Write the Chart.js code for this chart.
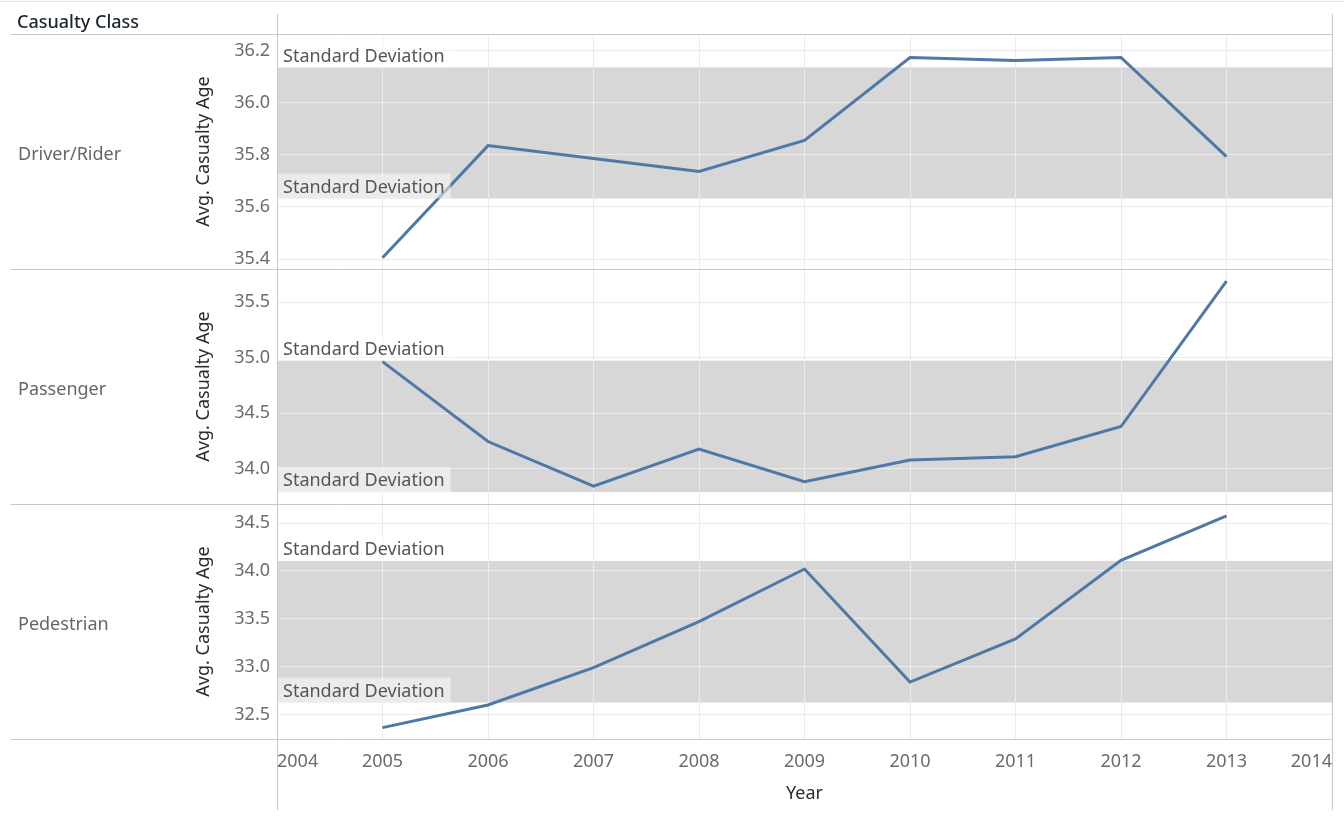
<!DOCTYPE html>
<html>
<head>
<meta charset="utf-8">
<title>Avg. Casualty Age by Casualty Class</title>
<script src="https://cdn.jsdelivr.net/npm/chart.js@4.4.1/dist/chart.umd.min.js"></script>
<style>
  html, body { margin: 0; padding: 0; background: #fff; }
  #wrap { position: relative; width: 1344px; height: 816px; }
</style>
</head>
<body>
<div id="wrap"><canvas id="casualtyChart"></canvas></div>
<script>
const years = [2005, 2006, 2007, 2008, 2009, 2010, 2011, 2012, 2013];
const casualtyClasses = ["Driver/Rider", "Passenger", "Pedestrian"];

const driverRiderAge = [35.405, 35.835, 35.786, 35.736, 35.855, 36.173, 36.161, 36.173, 35.793];
const passengerAge = [34.964, 34.245, 33.844, 34.177, 33.883, 34.078, 34.108, 34.380, 35.689];
const pedestrianAge = [32.364, 32.600, 32.990, 33.470, 34.020, 32.840, 33.290, 34.110, 34.576];

// standard deviation band (mean +/- 1 sd) for each class
const bandLow = [35.632, 33.790, 32.626];
const bandHigh = [36.135, 34.973, 34.105];

// y range + tick step of each panel
const axisMin = [35.362, 33.683, 32.245];
const axisMax = [36.263, 35.797, 34.699];
const tickStep = [0.2, 0.5, 0.5];

const yearMin = 2004;
const yearMax = 2014;

const seriesValues = [driverRiderAge, passengerAge, pedestrianAge];
const axisIds = ["yDriver", "yPassenger", "yPedestrian"];
const FONT = "'Noto Sans', sans-serif";
const SD_LABEL = "Standard Deviation";

Chart.defaults.font.family = FONT;

const datasets = seriesValues.map((vals, i) => ({
  label: casualtyClasses[i],
  data: years.map((yr, j) => ({ x: yr, y: vals[j] })),
  yAxisID: axisIds[i],
  borderColor: "#4e79a7",
  borderWidth: 3,
  pointRadius: 0,
  tension: 0,
}));

const scales = {
  x: {
    type: "linear",
    min: yearMin,
    max: yearMax,
    grid: { color: "#ebebeb", drawTicks: false },
    border: { display: false },
    ticks: {
      stepSize: 1,
      align: "inner",
      padding: 12,
      color: "#6b6b6b",
      font: { size: 18 },
      callback: (v) => String(v),
    },
    title: {
      display: true,
      text: "Year",
      color: "#2b2b2b",
      font: { size: 18 },
      padding: { top: 0, bottom: 11 },
    },
    afterFit: (s) => { s.height = 77; },
  },
};

axisIds.forEach((id, i) => {
  scales[id] = {
    type: "linear",
    position: "left",
    stack: "casualty",
    stackWeight: 1,
    weight: 2 - i,
    min: axisMin[i],
    max: axisMax[i],
    grid: { color: "#ebebeb", drawTicks: false },
    border: { display: false },
    ticks: {
      stepSize: tickStep[i],
      includeBounds: false,
      padding: 7,
      color: "#6b6b6b",
      font: { size: 18 },
      callback: (v) => Number(v).toFixed(1),
    },
    title: {
      display: true,
      text: "Avg. Casualty Age",
      color: "#2b2b2b",
      font: { size: 18 },
      padding: { top: 13, bottom: 0 },
    },
    afterFit: (s) => { s.width = 97; },
  };
});

// grey sd bands, their labels, the table frame and the row headers
const tablePlugin = {
  id: "tableFrame",
  beforeDraw(chart) {
    const { ctx, chartArea } = chart;
    ctx.save();
    ctx.fillStyle = "#d7d7d7";
    axisIds.forEach((id, i) => {
      const y = chart.scales[id];
      const top = y.getPixelForValue(bandHigh[i]);
      const bottom = y.getPixelForValue(bandLow[i]);
      ctx.fillRect(chartArea.left, top, chartArea.right - chartArea.left, bottom - top);
    });
    ctx.restore();
  },
  afterDatasetsDraw(chart) {
    const { ctx, chartArea } = chart;
    ctx.save();
    ctx.font = "18px " + FONT;
    ctx.textBaseline = "middle";
    const w = ctx.measureText(SD_LABEL).width + 12;
    axisIds.forEach((id, i) => {
      const y = chart.scales[id];
      const top = y.getPixelForValue(bandHigh[i]);
      const bottom = y.getPixelForValue(bandLow[i]);
      ctx.fillStyle = "rgba(255,255,255,0.5)";
      ctx.fillRect(chartArea.left, top - 25, w, 25);
      ctx.fillRect(chartArea.left, bottom - 25, w, 25);
      ctx.fillStyle = "#555555";
      ctx.fillText(SD_LABEL, chartArea.left + 6, top - 11);
      ctx.fillText(SD_LABEL, chartArea.left + 6, bottom - 11);
    });
    ctx.restore();
  },
  afterDraw(chart) {
    const { ctx, chartArea } = chart;
    ctx.save();
    ctx.lineWidth = 1;

    ctx.strokeStyle = "#e3e3e3";
    ctx.beginPath();
    ctx.moveTo(0, 1.5);
    ctx.lineTo(chart.width, 1.5);
    ctx.stroke();

    ctx.strokeStyle = "#c8c8c8";
    const edges = [chartArea.top].concat(axisIds.map((id) => chart.scales[id].bottom));
    edges.forEach((y) => {
      const py = Math.round(y) + 0.5;
      ctx.beginPath();
      ctx.moveTo(11, py);
      ctx.lineTo(chartArea.right + 1, py);
      ctx.stroke();
    });
    [chartArea.left, chartArea.right].forEach((x) => {
      const px = Math.round(x) + 0.5;
      ctx.beginPath();
      ctx.moveTo(px, 14);
      ctx.lineTo(px, 810);
      ctx.stroke();
    });

    ctx.textBaseline = "middle";
    ctx.textAlign = "left";
    ctx.fillStyle = "#1c2433";
    ctx.font = "500 18px " + FONT;
    ctx.fillText("Casualty Class", 17, 23);

    ctx.fillStyle = "#666666";
    ctx.font = "18px " + FONT;
    axisIds.forEach((id, i) => {
      const s = chart.scales[id];
      ctx.fillText(casualtyClasses[i], 18, (s.top + s.bottom) / 2 + 3);
    });
    ctx.restore();
  },
};

new Chart(document.getElementById("casualtyChart"), {
  type: "line",
  data: { datasets },
  options: {
    responsive: true,
    maintainAspectRatio: false,
    animation: false,
    events: [],
    layout: { padding: { left: 180, right: 10, top: 34, bottom: 0 } },
    scales,
    plugins: {
      legend: { display: false },
      tooltip: { enabled: false },
    },
  },
  plugins: [tablePlugin],
});
</script>
</body>
</html>
